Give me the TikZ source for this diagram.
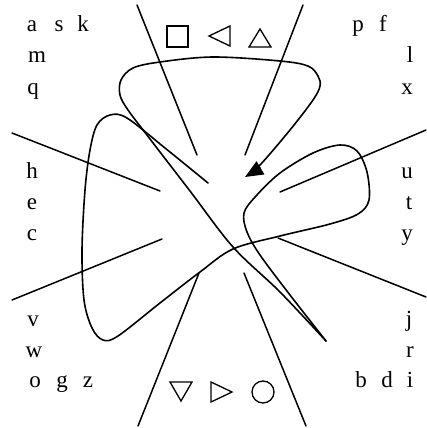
\documentclass[tikz,border=0pt]{standalone}
\usepackage{fontspec}
\setmainfont{Liberation Serif}
\usetikzlibrary{arrows.meta}
\begin{document}
\begin{tikzpicture}[x=1pt,y=-1pt,
  lbl/.style={inner sep=0pt,font=\fontsize{23}{27}\selectfont,anchor=base},
  ray/.style={line width=1.5pt,line cap=round},
  loopline/.style={line width=1.6pt,line join=round,line cap=round},
  sym/.style={line width=1.3pt,line join=miter}]
\useasboundingbox (0,0) rectangle (427,428);
% letters, left
\node[lbl] (la) at (32,32) {a};
\node[lbl] (ls) at (59,32) {s};
\node[lbl] (lk) at (83,32) {k};
\node[lbl] (lm) at (37,63) {m};
\node[lbl] (lq) at (33,94) {q};
\node[lbl] (lh) at (32,178) {h};
\node[lbl] (le) at (32,209) {e};
\node[lbl] (lc) at (32,240) {c};
\node[lbl] (lv) at (33,326) {v};
\node[lbl] (lw) at (34,357) {w};
\node[lbl] (lo) at (35,387) {o};
\node[lbl] (lg) at (62,387) {g};
\node[lbl] (lz) at (88,387) {z};
% letters, right
\node[lbl] (rp) at (358,32) {p};
\node[lbl] (rf) at (383,32) {f};
\node[lbl] (rl) at (410,63) {l};
\node[lbl] (rx) at (407,94) {x};
\node[lbl] (ru) at (407,178) {u};
\node[lbl] (rt) at (409,209) {t};
\node[lbl] (ry) at (407,240) {y};
\node[lbl] (rj) at (409,326) {j};
\node[lbl] (rr) at (410,357) {r};
\node[lbl] (rb) at (361,387) {b};
\node[lbl] (rd) at (387,387) {d};
\node[lbl] (ri) at (410,387) {i};
% symbols
\draw[sym] (167,26) rectangle (188,47);
\draw[sym] (209,36) -- (230,26) -- (230,46) -- cycle;
\draw[sym] (260,29) -- (271,47) -- (249,47) -- cycle;
\draw[sym] (170,382) -- (192,382) -- (181,401) -- cycle;
\draw[sym] (211,382) -- (232,392) -- (211,402) -- cycle;
\draw[sym] (263,392) circle (11);
% rays
\draw[ray] (137,5) -- (197,155);
\draw[ray] (303,5) -- (245,155);
\draw[ray] (12,133) -- (160,191);
\draw[ray] (426,130) -- (280,192);
\draw[ray] (12,300) -- (162,239);
\draw[ray] (278,238) -- (426,297);
\draw[ray] (199,273) -- (138,426);
\draw[ray] (244,273) -- (306,426);
% the curve
\draw[loopline] plot[smooth,tension=0.55] coordinates {
 (208,183) (165,148) (127,118) (110,115) (97,125) (90,150) (85,190) (82,250)
 (84,300) (92,328) (103,340) (118,336) (160,303) (200,272) (233,249)
 (280,236) (330,224) (358,214) (369,200) (367,172) (357,151) (340,145)
 (313,153) (280,173) (256,196) (244,213) (247,232) (260,255) (290,295) (326,341)};
\draw[loopline,-{Triangle[length=18pt,width=15pt]}] plot[smooth,tension=0.55] coordinates {
 (326,341) (280,292) (233,247) (190,191) (150,139) (128,110) (120,95) (121,80)
 (133,68) (160,62) (213,57) (280,61) (308,66) (318,76) (320,86) (313,100)
 (290,130) (260,165) (245,177)};
\end{tikzpicture}
\end{document}
